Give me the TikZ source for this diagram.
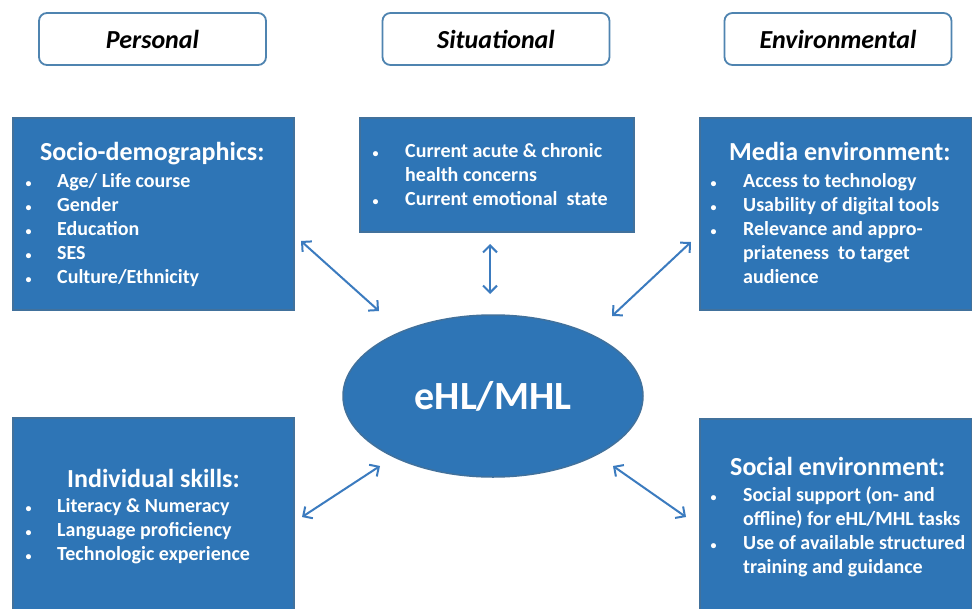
\documentclass[tikz,border=0pt]{standalone}
\usepackage{fontspec}
\setmainfont{Carlito}
\usetikzlibrary{arrows.meta,shapes.geometric}
\definecolor{boxblue}{HTML}{2E75B6}
\definecolor{boxline}{HTML}{41719C}
\definecolor{arrowblue}{HTML}{3B7BBF}
\definecolor{labline}{HTML}{4F84B0}
\newcommand\bul{{\fontsize{12}{12}\selectfont\textbullet}}
\tikzset{
  bluebox/.style={draw=boxline, line width=1.5pt, fill=boxblue, anchor=north west, inner sep=0pt},
  toplabel/.style={draw=labline, line width=1.8pt, rounded corners=8pt, fill=white, minimum width=227pt, minimum height=52pt, inner sep=0pt, font=\fontsize{26}{30}\selectfont\bfseries\itshape},
  heading/.style={anchor=base west, text=white, inner sep=0pt, font=\fontsize{26}{30}\selectfont\bfseries},
  items/.style={anchor=base west, text=white, inner sep=0pt, font=\fontsize{20}{24}\selectfont\bfseries, align=left},
  biarrow/.style={draw=arrowblue, line width=2pt, {Straight Barb[length=7pt,width=14pt]}-{Straight Barb[length=7pt,width=14pt]}},
}
\begin{document}
\begin{tikzpicture}[x=1pt,y=-1pt]
\clip (0,0) rectangle (972,608);
\fill[white] (0,0) rectangle (972,608);
% top labels
\node[toplabel] (personal) at (152.5,39) {Personal};
\node[toplabel] (situational) at (496,39) {Situational};
\node[toplabel] (environmental) at (838,39) {Environmental};
% boxes
\node[bluebox, minimum width=281pt, minimum height=192pt] (socio) at (12,117) {};
\node[bluebox, minimum width=274pt, minimum height=114pt] (situ) at (359,117) {};
\node[bluebox, minimum width=272pt, minimum height=192pt] (media) at (699,117) {};
\node[bluebox, minimum width=281pt, minimum height=200pt] (indiv) at (12,417) {};
\node[bluebox, minimum width=272pt, minimum height=200pt] (social) at (699,418) {};
% ellipse
\node[ellipse, draw=boxline, line width=1.5pt, fill=boxblue, minimum width=300pt, minimum height=162pt, inner sep=0pt, text=white, font=\fontsize{40}{44}\selectfont\bfseries] (ehl) at (493,396) {eHL/MHL};
% texts
\node[heading] (sociohead) at (40,160) {Socio-demographics:};
\node[items] (sociotext) at (25.5,187) {\begin{tabular}[t]{@{}p{31.5pt}@{}l@{}}
\bul & Age/ Life course\\
\bul & Gender\\
\bul & Education\\
\bul & SES\\
\bul & Culture/Ethnicity
\end{tabular}};
\node[items] (situtext) at (372.5,157) {\begin{tabular}[t]{@{}p{32.5pt}@{}l@{}}
\bul & Current acute \& chronic\\
 & health concerns\\
\bul & Current emotional\ \ state
\end{tabular}};
\node[heading] (mediahead) at (729,160) {Media environment:};
\node[items] (mediatext) at (710.5,187) {\begin{tabular}[t]{@{}p{32.5pt}@{}l@{}}
\bul & Access to technology\\
\bul & Usability of digital tools\\
\bul & Relevance and appro-\\
 & priateness\ \ to target\\
 & audience
\end{tabular}};
\node[heading] (indivhead) at (67,487) {Individual skills:};
\node[items] (indivtext) at (25.5,512) {\begin{tabular}[t]{@{}p{31.5pt}@{}l@{}}
\bul & Literacy \& Numeracy\\
\bul & Language proficiency\\
\bul & Technologic experience
\end{tabular}};
\node[heading] (socialhead) at (730,475) {Social environment:};
\node[items] (socialtext) at (710.5,501) {\begin{tabular}[t]{@{}p{32.5pt}@{}l@{}}
\bul & Social support (on- and\\
 & offline) for eHL/MHL tasks\\
\bul & Use of available structured\\
 & training and guidance
\end{tabular}};
% arrow ends
\coordinate (a1s) at (301,241);
\coordinate (a1e) at (379,311);
\coordinate (a2s) at (490,244);
\coordinate (a2e) at (490,294);
\coordinate (a3s) at (691,242);
\coordinate (a3e) at (612,316);
\coordinate (a4s) at (302,517);
\coordinate (a4e) at (380,466);
\coordinate (a5s) at (686,517);
\coordinate (a5e) at (613,466);
\draw[biarrow] (a1s) -- (a1e);
\draw[biarrow] (a2s) -- (a2e);
\draw[biarrow] (a3s) -- (a3e);
\draw[biarrow] (a4s) -- (a4e);
\draw[biarrow] (a5s) -- (a5e);
\end{tikzpicture}
\end{document}
